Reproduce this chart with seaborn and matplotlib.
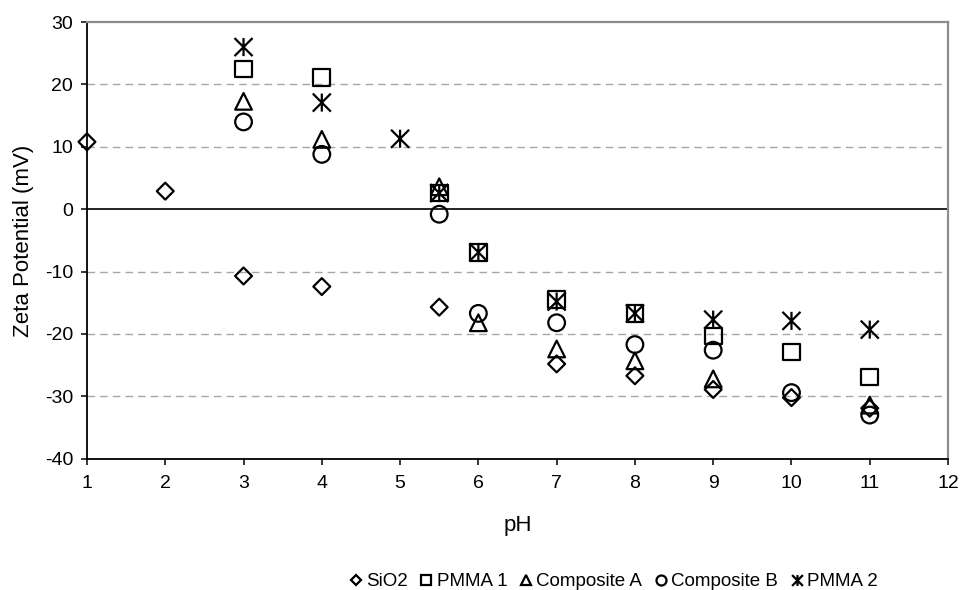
import matplotlib
matplotlib.use("Agg")
import matplotlib.pyplot as plt
from matplotlib.path import Path
from matplotlib.lines import Line2D
import seaborn as sns
import pandas as pd

# ---- data ----
sio2_ph = [1, 2, 3, 4, 5.5, 7, 8, 9, 10, 11]
sio2_zeta = [10.8, 2.9, -10.7, -12.4, -15.7, -24.8, -26.7, -28.9, -30.2, -31.9]

pmma1_ph = [3, 4, 5.5, 6, 7, 8, 9, 10, 11]
pmma1_zeta = [22.5, 21.1, 2.6, -6.9, -14.5, -16.7, -20.3, -22.9, -26.9]

compA_ph = [3, 4, 5.5, 6, 7, 8, 9, 11]
compA_zeta = [17.3, 11.2, 3.6, -18.2, -22.4, -24.3, -27.2, -31.4]

compB_ph = [3, 4, 5.5, 6, 7, 8, 9, 10, 11]
compB_zeta = [14.0, 8.8, -0.8, -16.7, -18.2, -21.7, -22.6, -29.4, -33.0]

pmma2_ph = [3, 4, 5, 5.5, 6, 7, 8, 9, 10, 11]
pmma2_zeta = [26.0, 17.1, 11.3, 2.6, -6.9, -14.8, -16.7, -17.7, -17.9, -19.3]

series_names = ["SiO2", "PMMA 1", "Composite A", "Composite B", "PMMA 2"]
x_ticks = list(range(1, 13))
y_ticks = list(range(-40, 31, 10))

# ---- styling ----
sns.set_theme(style="white")
plt.rcParams["font.family"] = ["Liberation Sans", "DejaVu Sans"]
plt.rcParams["axes.unicode_minus"] = False
plt.rcParams["text.color"] = "black"
plt.rcParams["axes.labelcolor"] = "black"
plt.rcParams["xtick.color"] = "black"
plt.rcParams["ytick.color"] = "black"

FS_TICK = 14
FS_TITLE = 16
FS_LEG = 13.5

asterisk = Path(
    [(-1, -1), (1, 1), (-1, 1), (1, -1), (0, -1), (0, 1)],
    [Path.MOVETO, Path.LINETO, Path.MOVETO, Path.LINETO, Path.MOVETO, Path.LINETO],
)

marker_specs = {
    "SiO2": ("D", 8.6),
    "PMMA 1": ("s", 12.0),
    "Composite A": ("^", 12.0),
    "Composite B": ("o", 12.0),
    "PMMA 2": (asterisk, 13.0),
}

frames = []
for name, xs, ys in zip(
    series_names,
    [sio2_ph, pmma1_ph, compA_ph, compB_ph, pmma2_ph],
    [sio2_zeta, pmma1_zeta, compA_zeta, compB_zeta, pmma2_zeta],
):
    frames.append(pd.DataFrame({"pH": xs, "zeta": ys, "series": name}))
df = pd.concat(frames, ignore_index=True)

fig = plt.figure(figsize=(9.61, 5.90), dpi=100)
ax = fig.add_axes([0.0905, 0.2225, 0.896, 0.740])

# grid lines (dashed) except at 0 / limits
for yv in y_ticks:
    if yv in (0, -40, 30):
        continue
    ax.axhline(yv, color="#A6A6A6", lw=1.0, ls=(0, (5.5, 3.6)), zorder=0)
ax.axhline(0, color="black", lw=1.2, zorder=1)

for name in series_names:
    m, ms = marker_specs[name]
    sub = df[df["series"] == name]
    sns.scatterplot(
        data=sub, x="pH", y="zeta", marker=m, s=ms ** 2,
        facecolor="none", edgecolor="black", linewidth=1.6,
        ax=ax, legend=False, zorder=3, clip_on=False,
    )

ax.set_xlim(1, 12)
ax.set_ylim(-40, 30)
ax.set_xticks(x_ticks)
ax.set_yticks(y_ticks)
ax.tick_params(axis="both", which="both", direction="out", length=4.5, width=1.1,
               color="black", labelcolor="black", labelsize=FS_TICK,
               bottom=True, left=True)
ax.tick_params(axis="x", pad=7.5)
ax.tick_params(axis="y", pad=5.5)

for side in ("left", "bottom"):
    ax.spines[side].set_color("black")
    ax.spines[side].set_linewidth(1.3)
for side in ("top", "right"):
    ax.spines[side].set_color("#8C8C8C")
    ax.spines[side].set_linewidth(1.6)

ax.set_xlabel("pH", fontsize=FS_TITLE, color="black")
ax.set_ylabel("Zeta Potential (mV)", fontsize=FS_TITLE, color="black")
ax.xaxis.set_label_coords(0.5, -0.128)
ax.yaxis.set_label_coords(-0.061, 0.5)

handles = []
for name in series_names:
    m, ms = marker_specs[name]
    handles.append(Line2D([], [], ls="none", marker=m, ms=ms * 0.6,
                          mfc="none", mec="black", mew=1.6, label=name))
fig.legend(handles=handles, loc="center", bbox_to_anchor=(0.638, 0.014),
           ncol=5, frameon=False, fontsize=FS_LEG, handlelength=0.8,
           handletextpad=0.15, columnspacing=0.6, borderaxespad=0)

fig.savefig("out.png", dpi=100)
